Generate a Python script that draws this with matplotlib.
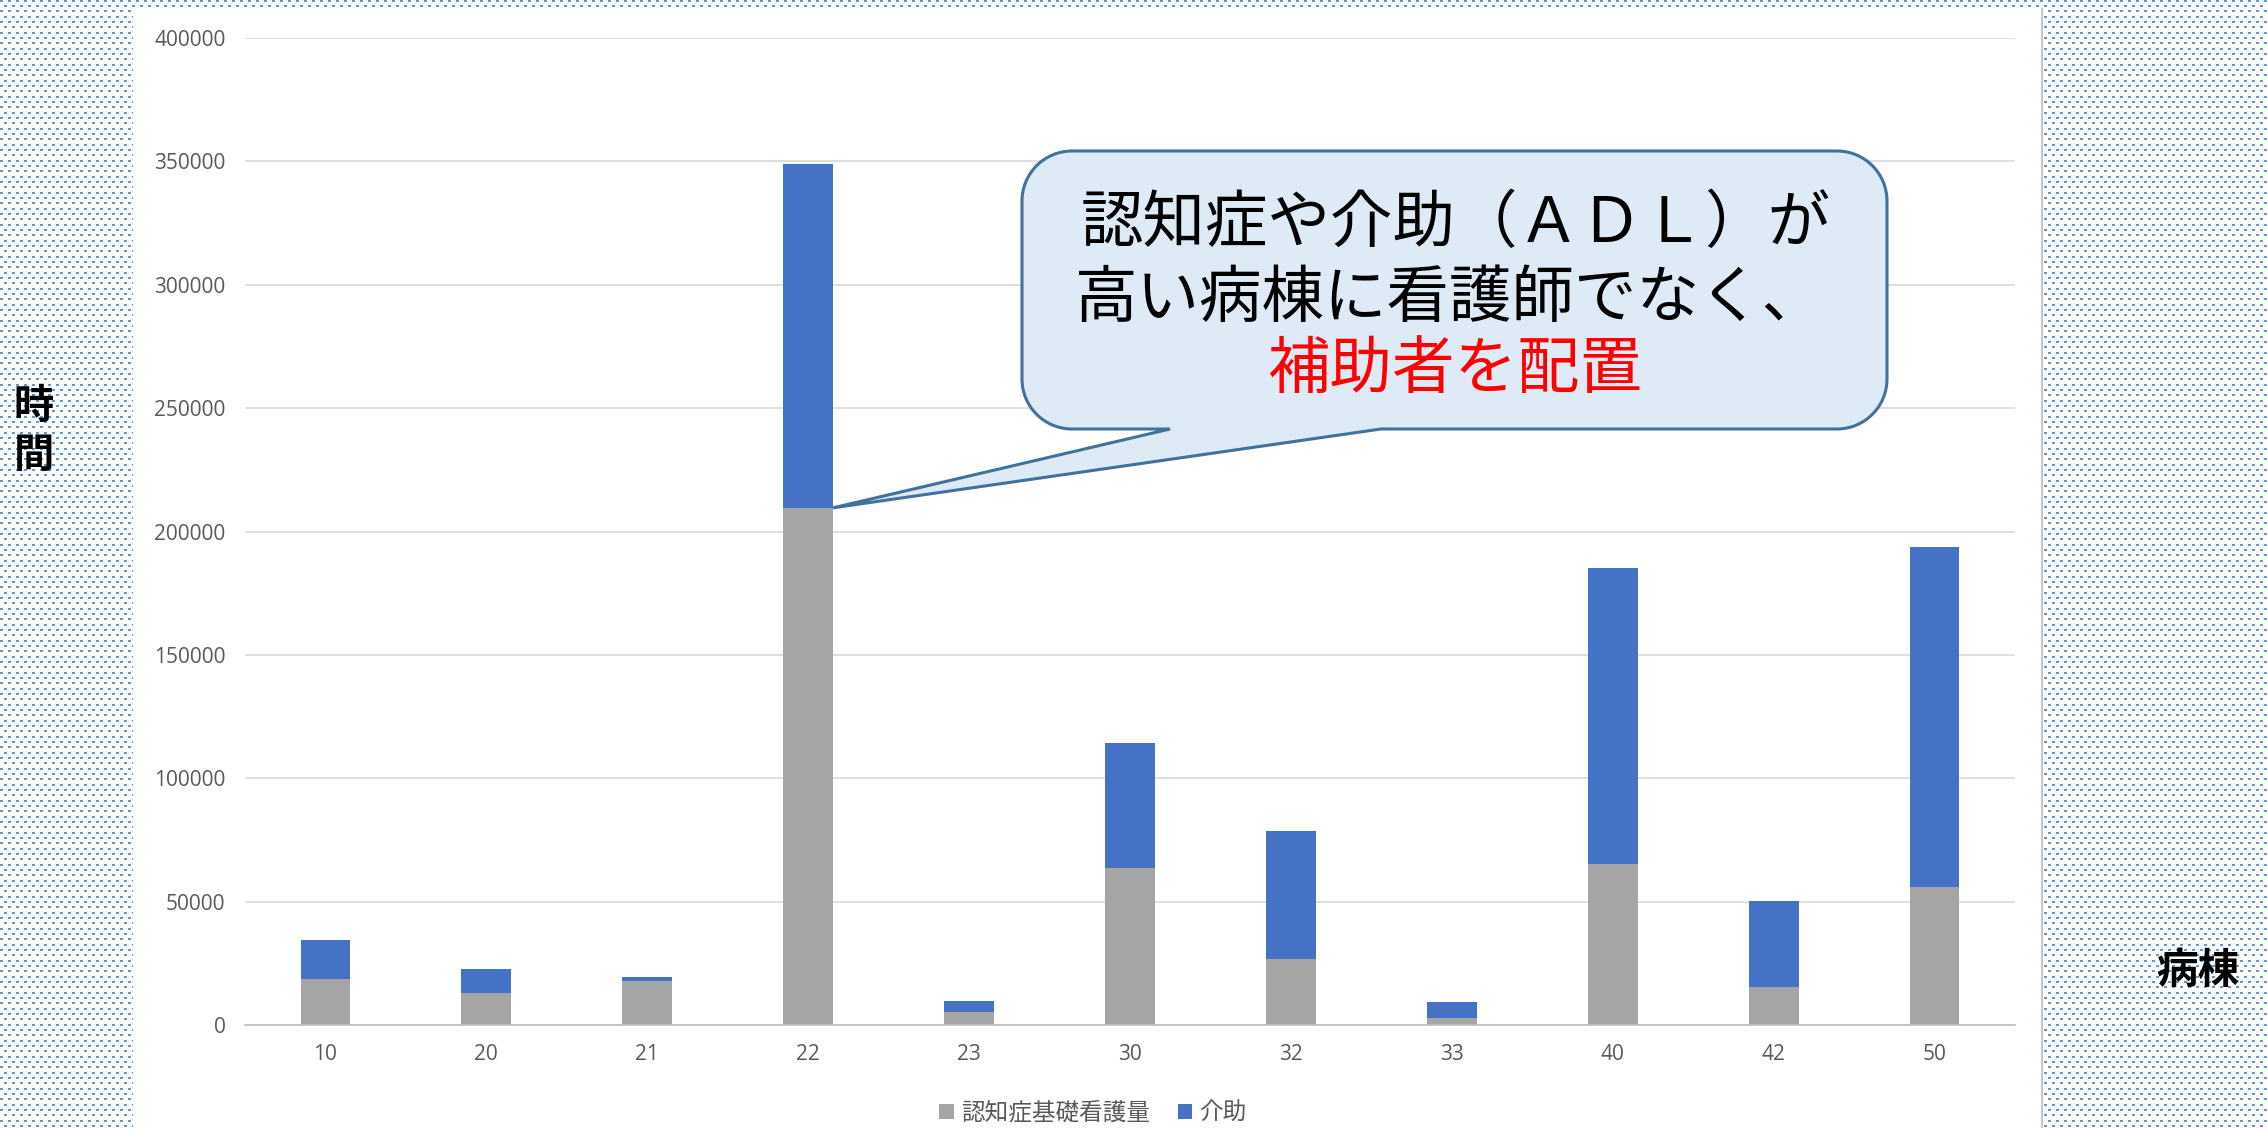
import numpy as np
import matplotlib
matplotlib.use("Agg")
import matplotlib.pyplot as plt
from matplotlib.path import Path
from matplotlib.patches import PathPatch

plt.rcParams['font.family'] = ['Noto Sans CJK JP', 'DejaVu Sans']

# --- data -------------------------------------------------------------
wards = ['10', '20', '21', '22', '23', '30', '32', '33', '40', '42', '50']
dementia_care = [18800, 13100, 17700, 209600, 5300, 63500, 26600, 2700, 65100, 15300, 55800]
assistance = [15500, 9500, 1600, 139200, 4300, 50600, 51900, 6700, 120200, 35100, 137900]
series_names = ['認知症基礎看護量', '介助']
y_ticks = list(range(0, 400001, 50000))
callout_lines = ['認知症や介助（ＡＤＬ）が', '高い病棟に看護師でなく、', '補助者を配置']
y_label = '時\n間'
x_label = '病棟'

W, H = 2267, 1128
fig = plt.figure(figsize=(W / 100, H / 100), dpi=100)

# --- dotted slide backdrop with white chart area ------------------------
bg = np.full((H, W, 3), 255, np.uint8)
dot = np.array([91, 155, 213], np.uint8)
k = 0
while True:
    y = (k * 16) // 3
    if y >= H:
        break
    off = 4 * (k % 2)
    for dx in range(3):
        bg[y:y + 2, off + dx::8] = dot
    k += 1
bg[8:, 133:2042] = 255
bg[8:, 2041:2043] = (200, 200, 200)
fig.figimage(bg, 0, 0, origin='upper', zorder=-10)

# --- stacked bars -----------------------------------------------------
ax = fig.add_axes([245 / W, 1 - 1025 / H, (2015 - 245) / W, (1025 - 38) / H])
ax.set_zorder(1)
ax.set_facecolor('none')
x = np.arange(len(wards))
bw = 0.31
b1 = ax.bar(x, dementia_care, bw, color='#A5A5A5', label=series_names[0], zorder=2)
b2 = ax.bar(x, assistance, bw, bottom=dementia_care, color='#4472C4',
            label=series_names[1], zorder=2)

ax.set_xlim(-0.5, len(wards) - 0.5)
ax.set_ylim(0, 400000)
ax.set_yticks(y_ticks, [str(v) for v in y_ticks], fontfamily=['Open Sans', 'DejaVu Sans'])
ax.set_xticks(x, wards, fontfamily=['Open Sans', 'DejaVu Sans'])
ax.yaxis.grid(True, color='#D9D9D9', linewidth=1.2)
ax.set_axisbelow(True)
for s in ('top', 'right', 'left'):
    ax.spines[s].set_visible(False)
ax.spines['bottom'].set_color('#BFBFBF')
ax.spines['bottom'].set_linewidth(1.2)
ax.tick_params(axis='both', length=0, labelsize=15, labelcolor='#595959')
ax.tick_params(axis='y', pad=14)
ax.tick_params(axis='x', pad=14)

# --- axis titles --------------------------------------------------------
fig.text(34 / W, 1 - 431 / H, y_label, ha='center', va='center',
         fontsize=29, linespacing=1.25, fontweight='bold', zorder=3)
fig.text(2198 / W, 1 - 971 / H, x_label, ha='center', va='center',
         fontsize=30, fontweight='bold', zorder=3)

# --- legend -------------------------------------------------------------
fig.legend(handles=[b1, b2], loc='center', bbox_to_anchor=(1093 / W, 1 - 1113 / H),
           ncol=2, frameon=False, fontsize=17, handlelength=0.6, handleheight=0.6,
           handletextpad=0.3, columnspacing=1.2, labelcolor='#595959')

# --- speech-bubble callout pointing at ward 22 --------------------------
fig.canvas.draw()
tip = ax.transData.transform((x[3] + bw / 2, dementia_care[3]))
tip_px = (tip[0], H - tip[1])

L, R, T, B, r = 1022, 1887, 151, 429, 50
base_l, base_r = 1170, 1381
kap = 0.5523 * r
pts = [
    ((L + r, T), Path.MOVETO),
    ((R - r, T), Path.LINETO),
    ((R - r + kap, T), Path.CURVE4), ((R, T + r - kap), Path.CURVE4), ((R, T + r), Path.CURVE4),
    ((R, B - r), Path.LINETO),
    ((R, B - r + kap), Path.CURVE4), ((R - r + kap, B), Path.CURVE4), ((R - r, B), Path.CURVE4),
    ((base_r, B), Path.LINETO),
    (tip_px, Path.LINETO),
    ((base_l, B), Path.LINETO),
    ((L + r, B), Path.LINETO),
    ((L + r - kap, B), Path.CURVE4), ((L, B - r + kap), Path.CURVE4), ((L, B - r), Path.CURVE4),
    ((L, T + r), Path.LINETO),
    ((L, T + r - kap), Path.CURVE4), ((L + r - kap, T), Path.CURVE4), ((L + r, T), Path.CURVE4),
    ((L + r, T), Path.CLOSEPOLY),
]
verts = [(px / W, 1 - py / H) for (px, py), _ in pts]
codes = [c for _, c in pts]
bubble = PathPatch(Path(verts, codes), transform=fig.transFigure,
                   facecolor='#DEEAF6', edgecolor='#41719C', linewidth=2.2, zorder=5)
fig.add_artist(bubble)

fig.text(1456 / W, 1 - 224 / H, callout_lines[0], ha='center', va='center',
         fontsize=45, color='black', zorder=6)
fig.text(1450 / W, 1 - 299 / H, callout_lines[1], ha='center', va='center',
         fontsize=45, color='black', zorder=6)
fig.text(1455 / W, 1 - 370 / H, callout_lines[2], ha='center', va='center',
         fontsize=45, color='#FF0000', zorder=6)

fig.savefig('out.png', dpi=100)
